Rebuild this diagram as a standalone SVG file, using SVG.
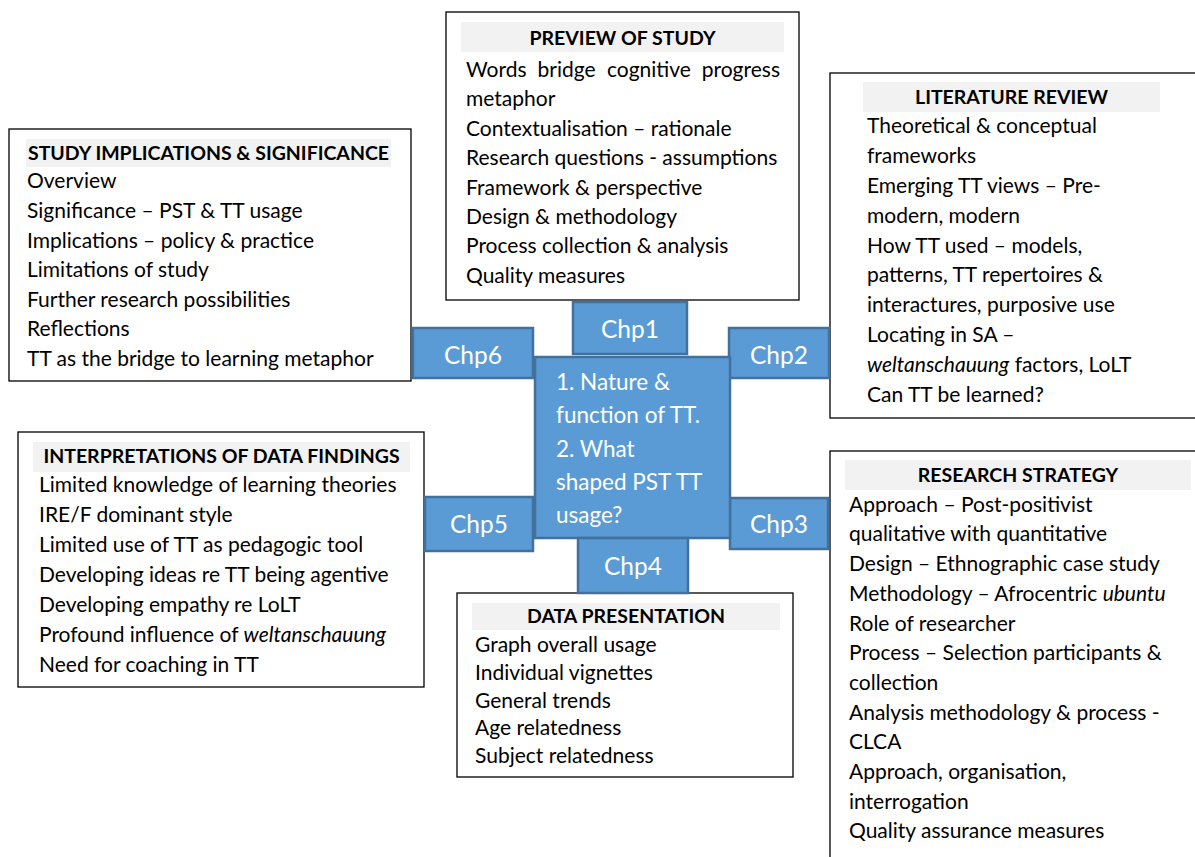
<svg xmlns="http://www.w3.org/2000/svg" width="1195" height="857" viewBox="0 0 1195 857">
  <style>
    .box { fill: #ffffff; stroke: #000000; stroke-width: 1.3; }
    .band { fill: #f2f2f2; }
    .title { font-family: Lato, "Liberation Sans", sans-serif; font-weight: bold; font-size: 19.5px; fill: #000; text-anchor: middle; }
    .item { font-family: Lato, "Liberation Sans", sans-serif; font-size: 21px; fill: #000; }
    .chp { fill: #5b9bd5; stroke: #41719c; stroke-width: 2.5; }
    .chpText { font-family: Lato, "Liberation Sans", sans-serif; font-size: 24.5px; fill: #ffffff; text-anchor: middle; }
    .hubText { font-family: Lato, "Liberation Sans", sans-serif; font-size: 22.5px; fill: #ffffff; }
    .it { font-style: italic; }
  </style>

  <rect width="1195" height="857" fill="#ffffff"/>

  <!-- Chapter 1 content -->
  <g id="preview">
    <rect class="box" x="446" y="12" width="353" height="288"/>
    <rect class="band" x="461" y="22" width="323" height="30"/>
    <text class="title" x="622.5" y="45">PREVIEW OF STUDY</text>
    <!-- justified first line: words spread across the full column -->
    <text class="item" y="77"><tspan x="466">Words</tspan><tspan x="537.5">bridge</tspan><tspan x="607">cognitive</tspan><tspan x="780" text-anchor="end">progress</tspan></text>
    <text class="item" x="466" y="106.4">metaphor</text>
    <text class="item" x="466" y="135.8">Contextualisation – rationale</text>
    <text class="item" x="466" y="165.2">Research questions - assumptions</text>
    <text class="item" x="466" y="194.6">Framework &amp; perspective</text>
    <text class="item" x="466" y="224">Design &amp; methodology</text>
    <text class="item" x="466" y="253.4">Process collection &amp; analysis</text>
    <text class="item" x="466" y="282.8">Quality measures</text>
  </g>

  <!-- Chapter 2 content -->
  <g id="literature">
    <rect class="box" x="830" y="73" width="380" height="345"/>
    <rect class="band" x="863" y="82" width="297" height="30"/>
    <text class="title" x="1011.5" y="103.5">LITERATURE REVIEW</text>
    <text class="item" x="867" y="133.3">Theoretical &amp; conceptual</text>
    <text class="item" x="867" y="163.1">frameworks</text>
    <text class="item" x="867" y="192.9">Emerging TT views – Pre-</text>
    <text class="item" x="867" y="222.7">modern, modern</text>
    <text class="item" x="867" y="252.5">How TT used – models,</text>
    <text class="item" x="867" y="282.3">patterns, TT repertoires &amp;</text>
    <text class="item" x="867" y="312.1">interactures, purposive use</text>
    <text class="item" x="867" y="341.9">Locating in SA –</text>
    <text class="item" x="867" y="371.7"><tspan class="it">weltanschauung</tspan> factors, LoLT</text>
    <text class="item" x="867" y="401.5">Can TT be learned?</text>
  </g>

  <!-- Chapter 3 content -->
  <g id="strategy">
    <rect class="box" x="830" y="451" width="380" height="420"/>
    <rect class="band" x="845" y="460" width="346" height="30"/>
    <text class="title" x="1018" y="481.7">RESEARCH STRATEGY</text>
    <text class="item" x="849" y="511.7">Approach – Post-positivist</text>
    <text class="item" x="849" y="541.4">qualitative with quantitative</text>
    <text class="item" x="849" y="571.1">Design – Ethnographic case study</text>
    <text class="item" x="849" y="600.8">Methodology – Afrocentric <tspan class="it">ubuntu</tspan></text>
    <text class="item" x="849" y="630.5">Role of researcher</text>
    <text class="item" x="849" y="660.2">Process – Selection participants &amp;</text>
    <text class="item" x="849" y="689.9">collection</text>
    <text class="item" x="849" y="719.6">Analysis methodology &amp; process -</text>
    <text class="item" x="849" y="749.3">CLCA</text>
    <text class="item" x="849" y="779">Approach, organisation,</text>
    <text class="item" x="849" y="808.7">interrogation</text>
    <text class="item" x="849" y="838.4">Quality assurance measures</text>
  </g>

  <!-- Chapter 4 content -->
  <g id="data">
    <rect class="box" x="457" y="593" width="336" height="184"/>
    <rect class="band" x="472" y="603" width="308" height="27"/>
    <text class="title" x="626" y="623.3">DATA PRESENTATION</text>
    <text class="item" x="475" y="651.7">Graph overall usage</text>
    <text class="item" x="475" y="679.6">Individual vignettes</text>
    <text class="item" x="475" y="707.5">General trends</text>
    <text class="item" x="475" y="735.4">Age relatedness</text>
    <text class="item" x="475" y="763.3">Subject relatedness</text>
  </g>

  <!-- Chapter 5 content -->
  <g id="interpretations">
    <rect class="box" x="18" y="432" width="406" height="255"/>
    <rect class="band" x="33" y="442" width="377" height="30"/>
    <text class="title" x="221.5" y="463.3">INTERPRETATIONS OF DATA FINDINGS</text>
    <text class="item" x="39" y="491.7">Limited knowledge of learning theories</text>
    <text class="item" x="39" y="521.7">IRE/F dominant style</text>
    <text class="item" x="39" y="551.7">Limited use of TT as pedagogic tool</text>
    <text class="item" x="39" y="581.7">Developing ideas re TT being agentive</text>
    <text class="item" x="39" y="611.7">Developing empathy re LoLT</text>
    <text class="item" x="39" y="641.7">Profound influence of <tspan class="it">weltanschauung</tspan></text>
    <text class="item" x="39" y="671.7">Need for coaching in TT</text>
  </g>

  <!-- Chapter 6 content -->
  <g id="implications">
    <rect class="box" x="9" y="129" width="402" height="252"/>
    <rect class="band" x="26" y="139" width="365" height="28"/>
    <text class="title" x="208.5" y="160">STUDY IMPLICATIONS &amp; SIGNIFICANCE</text>
    <text class="item" x="27" y="188.3">Overview</text>
    <text class="item" x="27" y="217.9">Significance – PST &amp; TT usage</text>
    <text class="item" x="27" y="247.5">Implications – policy &amp; practice</text>
    <text class="item" x="27" y="277.1">Limitations of study</text>
    <text class="item" x="27" y="306.7">Further research possibilities</text>
    <text class="item" x="27" y="336.3">Reflections</text>
    <text class="item" x="27" y="365.9">TT as the bridge to learning metaphor</text>
  </g>

  <!-- Chapter tabs around the hub -->
  <g id="chp1">
    <rect class="chp" x="573" y="302" width="114" height="52"/>
    <text class="chpText" x="630" y="338">Chp1</text>
  </g>
  <g id="chp6">
    <rect class="chp" x="413" y="328" width="120" height="50"/>
    <text class="chpText" x="473" y="364">Chp6</text>
  </g>
  <g id="chp2">
    <rect class="chp" x="729" y="328" width="100" height="50"/>
    <text class="chpText" x="779" y="364">Chp2</text>
  </g>
  <g id="chp5">
    <rect class="chp" x="425" y="497" width="108" height="54"/>
    <text class="chpText" x="479" y="533">Chp5</text>
  </g>
  <g id="chp3">
    <rect class="chp" x="730" y="498" width="98" height="51"/>
    <text class="chpText" x="779" y="533">Chp3</text>
  </g>

  <!-- Central research questions -->
  <g id="hub">
    <rect class="chp" x="535" y="357" width="195" height="181"/>
    <text class="hubText" x="556" y="390">1. Nature &amp;</text>
    <text class="hubText" x="556" y="423.3">function of TT.</text>
    <text class="hubText" x="556" y="456.6">2. What</text>
    <text class="hubText" x="556" y="489.9">shaped PST TT</text>
    <text class="hubText" x="556" y="523.2">usage?</text>
  </g>

  <g id="chp4">
    <rect class="chp" x="578" y="538" width="110" height="55"/>
    <text class="chpText" x="633" y="575">Chp4</text>
  </g>

  <g id="connectors"/>
</svg>
